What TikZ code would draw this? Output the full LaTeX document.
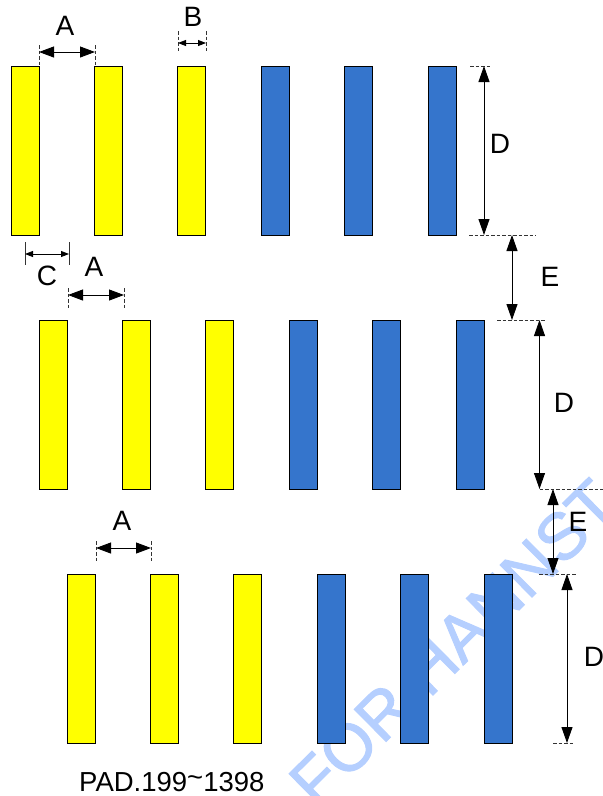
\documentclass[tikz,border=0pt]{standalone}
\usepackage{fontspec}
\setmainfont{Liberation Sans}
\newfontfamily\markfont[FakeBold=1.5]{Liberation Sans}
\usepackage{xcolor}
\usetikzlibrary{arrows.meta, calc}

\definecolor{padyellow}{HTML}{FFFF00}
\definecolor{padblue}{HTML}{3575CC}
\definecolor{markblue}{HTML}{B5CFFF}

\tikzset{
	yellowpad/.style={fill=padyellow, draw=black, line width=0.9pt},
	bluepad/.style={fill=padblue, draw=black, line width=0.9pt},
	guide/.style={draw=black!80, line width=0.7pt, dash pattern=on 3.5pt off 2pt},
	wide/.style={black, line width=0.9pt, {Triangle[length=15pt,width=11pt]}-{Triangle[length=15pt,width=11pt]}},
	narrow/.style={black, line width=0.9pt, {Triangle[length=8pt,width=6pt]}-{Triangle[length=8pt,width=6pt]}},
	tall/.style={black, line width=0.9pt, {Triangle[length=16pt,width=11pt]}-{Triangle[length=16pt,width=11pt]}},
	dimlabel/.style={font=\fontsize{28}{30}\selectfont, inner sep=0pt},
}

\begin{document}
\begin{tikzpicture}[x=1pt, y=-1pt]
	\def\w{28};
	\def\h{169};
	\def\p{83.4};

	\useasboundingbox (0,0) rectangle (603,796);

	% watermark
	\begin{scope}
		\clip (0,0) rectangle (603,796);
		\node (mark) [rotate=44.7, anchor=base west, inner sep=0pt, text=markblue, font=\markfont\fontsize{66}{70}\selectfont] at (317,810) {FOR HANNST};
	\end{scope}

	% pads
	\begin{scope}[shift={(11,66)}]
		\filldraw[yellowpad] ({0*\p},0) rectangle ++(\w,\h);
		\filldraw[yellowpad] ({1*\p},0) rectangle ++(\w,\h);
		\filldraw[yellowpad] ({2*\p},0) rectangle ++(\w,\h);
		\filldraw[bluepad] ({3*\p},0) rectangle ++(\w,\h);
		\filldraw[bluepad] ({4*\p},0) rectangle ++(\w,\h);
		\filldraw[bluepad] ({5*\p},0) rectangle ++(\w,\h);
	\end{scope}

	\begin{scope}[shift={(39,320)}]
		\filldraw[yellowpad] ({0*\p},0) rectangle ++(\w,\h);
		\filldraw[yellowpad] ({1*\p},0) rectangle ++(\w,\h);
		\filldraw[yellowpad] ({2*\p},0) rectangle ++(\w,\h);
		\filldraw[bluepad] ({3*\p},0) rectangle ++(\w,\h);
		\filldraw[bluepad] ({4*\p},0) rectangle ++(\w,\h);
		\filldraw[bluepad] ({5*\p},0) rectangle ++(\w,\h);
	\end{scope}

	\begin{scope}[shift={(67,574)}]
		\filldraw[yellowpad] ({0*\p},0) rectangle ++(\w,\h);
		\filldraw[yellowpad] ({1*\p},0) rectangle ++(\w,\h);
		\filldraw[yellowpad] ({2*\p},0) rectangle ++(\w,\h);
		\filldraw[bluepad] ({3*\p},0) rectangle ++(\w,\h);
		\filldraw[bluepad] ({4*\p},0) rectangle ++(\w,\h);
		\filldraw[bluepad] ({5*\p},0) rectangle ++(\w,\h);
	\end{scope}

	% horizontal dimensions
	\coordinate (a1l) at (39,52);
	\coordinate (a1r) at (95,52);
	\coordinate (bl) at (178,43);
	\coordinate (br) at (206,43);
	\coordinate (cl) at (25,254);
	\coordinate (cr) at (69,254);
	\coordinate (a2l) at (68,295);
	\coordinate (a2r) at (124,295);
	\coordinate (a3l) at (96,548);
	\coordinate (a3r) at (151,548);

	\begin{scope}
		\draw[guide] ($ (a1l) + (0,-7) $) -- ($ (a1l) + (0,14) $);
		\draw[guide] ($ (a1r) + (0,-7) $) -- ($ (a1r) + (0,14) $);
		\draw[guide] ($ (bl) + (0,-12) $) -- ($ (bl) + (0,9) $);
		\draw[guide] ($ (br) + (0,-12) $) -- ($ (br) + (0,9) $);
		\draw[guide] ($ (a2l) + (0,-7) $) -- ($ (a2l) + (0,14) $);
		\draw[guide] ($ (a2r) + (0,-7) $) -- ($ (a2r) + (0,14) $);
		\draw[guide] ($ (a3l) + (0,-7) $) -- ($ (a3l) + (0,14) $);
		\draw[guide] ($ (a3r) + (0,-7) $) -- ($ (a3r) + (0,14) $);
		\draw[black!80, line width=0.9pt] ($ (cl) + (0,-12) $) -- ($ (cl) + (0,11) $);
		\draw[black!80, line width=0.9pt] ($ (cr) + (0,-12) $) -- ($ (cr) + (0,11) $);
	\end{scope}

	\begin{scope}
		\draw[wide] (a1l) -- (a1r);
		\draw[narrow] (bl) -- (br);
		\draw[narrow] (cl) -- (cr);
		\draw[wide] (a2l) -- (a2r);
		\draw[wide] (a3l) -- (a3r);
	\end{scope}

	% vertical dimensions
	\coordinate (d1t) at (484,66);
	\coordinate (d1b) at (484,235);
	\coordinate (e1t) at (512,235);
	\coordinate (e1b) at (512,320);
	\coordinate (d2t) at (539.5,320);
	\coordinate (d2b) at (539.5,489);
	\coordinate (e2t) at (553,489);
	\coordinate (e2b) at (553,574);
	\coordinate (d3t) at (567,574);
	\coordinate (d3b) at (567,743);

	\begin{scope}
		\draw[guide] ($ (d1t) + (-14,0) $) -- ($ (d1t) + (7,0) $);
		\draw[guide] ($ (d1b) + (-15,0) $) -- ($ (e1t) + (24,0) $);
		\draw[guide] ($ (e1b) + (-15,0) $) -- ($ (d2t) + (6,0) $);
		\draw[guide] (d2b) -- ($ (e2t) + (50,0) $);
		\draw[guide] ($ (e2b) + (-14,0) $) -- ($ (d3t) + (10,0) $);
		\draw[guide] ($ (d3b) + (-14,0) $) -- ($ (d3b) + (7,0) $);
	\end{scope}

	\begin{scope}
		\draw[tall] (d1t) -- (d1b);
		\draw[tall] (e1t) -- (e1b);
		\draw[tall] (d2t) -- (d2b);
		\draw[tall] (e2t) -- (e2b);
		\draw[tall] (d3t) -- (d3b);
	\end{scope}

	% labels
	\node (la1) [dimlabel] at (65,26) {A};
	\node (lb) [dimlabel] at (193,17) {B};
	\node (lc) [dimlabel] at (47,276) {C};
	\node (la2) [dimlabel] at (94,267) {A};
	\node (la3) [dimlabel] at (122,521) {A};
	\node (ld1) [dimlabel] at (500,144) {D};
	\node (le1) [dimlabel] at (550,277) {E};
	\node (ld2) [dimlabel] at (564,403) {D};
	\node (le2) [dimlabel] at (578,522) {E};
	\node (ld3) [dimlabel] at (594,657) {D};
	\node (title) [dimlabel, font=\fontsize{27.5}{30}\selectfont, anchor=base west] at (79,791) {PAD.199\raisebox{5pt}{\textasciitilde}1398};
\end{tikzpicture}
\end{document}
